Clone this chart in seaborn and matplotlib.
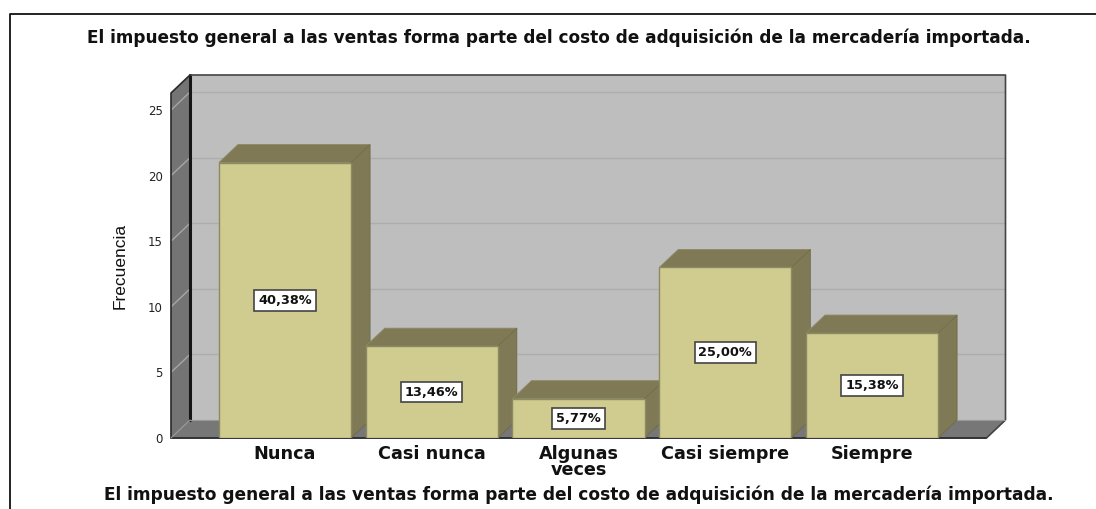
import matplotlib
matplotlib.use("Agg")
import matplotlib.pyplot as plt
from matplotlib.lines import Line2D
from matplotlib.patches import Polygon
import pandas as pd
import seaborn as sns

categories = ["Nunca", "Casi nunca", "Algunas\nveces", "Casi siempre", "Siempre"]
frecuencia = [21, 7, 3, 13, 8]
porcentajes = ["40,38%", "13,46%", "5,77%", "25,00%", "15,38%"]
y_ticks = [0, 5, 10, 15, 20, 25]
title = "El impuesto general a las ventas forma parte del costo de adquisición de la mercadería importada."

W, H = 1096, 509
sns.set_theme(style="white")
plt.rcParams["font.family"] = ["DejaVu Sans"]
fig = plt.figure(figsize=(W / 100, H / 100), dpi=100, facecolor="white")
L, R, B, T = 171, 986.5, 438, 93
ax = fig.add_axes([L / W, 1 - B / H, (R - L) / W, (B - T) / H])
ax.patch.set_visible(False)

df = pd.DataFrame({"cat": categories, "freq": frecuencia})
sns.barplot(data=df, x="cat", y="freq", color="#D0CB8E", saturation=1, width=0.9,
            edgecolor="#8C8A62", linewidth=1, ax=ax)
ax.set_xlim(-0.777, 4.780)
ax.set_ylim(0, 26.3)
x0, x1 = ax.get_xlim()
ymax = ax.get_ylim()[1]
dx = 19 / ((R - L) / (x1 - x0))
dy = 18 / ((B - T) / ymax)

def poly(pts, fc, ec="none", lw=0, z=1):
    ax.add_patch(Polygon(pts, closed=True, facecolor=fc, edgecolor=ec, linewidth=lw,
                         zorder=z, clip_on=False))

# walls and floor
poly([(x0 + dx, dy), (x1 + dx, dy), (x1 + dx, ymax + dy), (x0 + dx, ymax + dy)], "#BEBEBE", z=1)
poly([(x0, 0), (x0 + dx, dy), (x1 + dx, dy), (x1, 0)], "#777777", z=1.1)
poly([(x0, 0), (x0 + dx, dy), (x0 + dx, ymax + dy), (x0, ymax)], "#747474", z=1.1)
for t in y_ticks[1:]:
    ax.plot([x0 + dx, x1 + dx], [t + dy, t + dy], color="#ADADAD", lw=1, zorder=1.2, clip_on=False)
    ax.plot([x0, x0 + dx], [t, t + dy], color="#A6A6A6", lw=1, zorder=1.2, clip_on=False)
# wall outlines
ax.plot([x0 + dx, x0 + dx], [dy, ymax + dy], color="#151515", lw=2.2, zorder=1.3, clip_on=False)
ax.plot([x0 + dx, x1 + dx, x1 + dx, x1], [ymax + dy, ymax + dy, dy, 0], color="#444444", lw=1.2, zorder=1.3, clip_on=False)
ax.plot([x0 + dx, x0, x0], [ymax + dy, ymax, 0], color="#2A2A2A", lw=1.2, zorder=1.3, clip_on=False)
ax.plot([x0, x1], [0, 0], color="#333333", lw=1.4, zorder=1.3, clip_on=False)
ax.plot([x0 + dx, x1 + dx], [dy, dy], color="#999999", lw=0.8, zorder=1.3, clip_on=False)
ax.plot([x0, x0 + dx], [0, dy], color="#999999", lw=0.8, zorder=1.3, clip_on=False)

# bar depth
for i, bar in enumerate(ax.patches[:len(categories)]):
    a, b = bar.get_x(), bar.get_x() + bar.get_width()
    h = bar.get_height()
    z = 3 + i
    bar.set_zorder(z + 0.5)
    poly([(a, h), (a + dx, h + dy), (b + dx, h + dy), (b, h)], "#7F7A55", "#8C8A62", 0.6, z)
    poly([(b, 0), (b + dx, dy), (b + dx, h + dy), (b, h)], "#7F7A55", "#6E6A48", 0.6, z)

ax.bar_label(ax.containers[0], labels=porcentajes, label_type="center", fontsize=9.3,
             fontweight="bold", color="#111111", zorder=20,
             bbox=dict(boxstyle="square,pad=0.3", fc="white", ec="#444444", lw=1.2))

sns.despine(ax=ax, left=True, bottom=True)
ax.set_yticks(y_ticks)
ax.tick_params(axis="y", length=0, pad=5.8, labelsize=8.5, labelcolor="#222222")
ax.tick_params(axis="x", length=0, pad=5, labelsize=12.7, labelcolor="#111111")
for lab in ax.get_xticklabels():
    lab.set_fontweight("bold")
    lab.set_linespacing(0.86)
    lab.set_verticalalignment("top")
ax.set_xlabel("")
ax.set_ylabel("")

fig.text(120 / W, 1 - 266 / H, "Frecuencia", rotation=90, ha="center", va="center",
         fontsize=12.5, family="Liberation Sans", color="#111111")
fig.text(558.5 / W, 1 - 38 / H, title, ha="center", va="center", fontsize=12.2, fontweight="bold", color="#111111")
fig.text(579 / W, 1 - 495 / H, title, ha="center", va="center", fontsize=12.25, fontweight="bold", color="#111111")

# outer frame: left and top edges only
fx = lambda p: p / W
fy = lambda p: 1 - p / H
fig.add_artist(Line2D([fx(9.5), fx(9.5), fx(1096)], [fy(509), fy(13.5), fy(13.5)],
                      color="#111111", lw=1.3))
fig.savefig("out.png", dpi=100)
